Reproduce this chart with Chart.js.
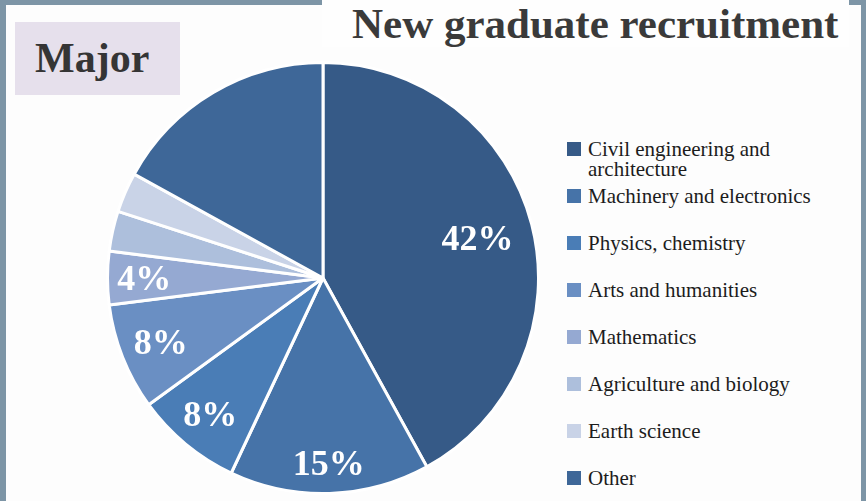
<!DOCTYPE html>
<html>
<head>
<meta charset="utf-8">
<script src="https://cdn.jsdelivr.net/npm/chart.js@4.4.1/dist/chart.umd.min.js"></script>
<style>
    html, body {
        margin: 0;
        padding: 0;
        width: 866px;
        height: 501px;
        overflow: hidden;
        background: #fdfdfd;
        font-family: "Liberation Serif", "Times New Roman", serif;
    }
    #frame {
        position: absolute;
        left: 0;
        top: 0;
        width: 866px;
        height: 501px;
        box-sizing: border-box;
        border-top: 5px solid #7d95a6;
        border-left: 6px solid #7d95a6;
        border-right: 5px solid #7d95a6;
        background: #fdfdfd;
    }
    #title {
        position: absolute;
        left: 322px;
        top: 0;
        width: 527px;
        height: 47px;
        box-sizing: border-box;
        padding-left: 30px;
        background: #fefefe;
        color: #3a3a3a;
        font-weight: bold;
        font-size: 43px;
        line-height: 47px;
        white-space: nowrap;
    }
    #major {
        position: absolute;
        left: 15px;
        top: 22px;
        width: 165px;
        height: 73px;
        box-sizing: border-box;
        padding-left: 20px;
        background: #e6e0ec;
        color: #353535;
        font-weight: bold;
        font-size: 42px;
        line-height: 73px;
    }
    #pie-box {
        position: absolute;
        left: 106px;
        top: 61px;
        width: 434px;
        height: 434px;
    }
    #legend {
        position: absolute;
        left: 567px;
        top: 139px;
        margin: 0;
        padding: 0;
        list-style: none;
        font-size: 21px;
        color: #1c1c1c;
    }
    #legend li {
        position: relative;
        height: 47px;
        padding-left: 21px;
        line-height: 20px;
        width: 240px;
    }
    #legend li span.box {
        position: absolute;
        left: 0;
        top: 3px;
        width: 14px;
        height: 14px;
    }
</style>
</head>
<body>
<div id="frame"></div>
<div id="title">New graduate recruitment</div>
<div id="major">Major</div>
<div id="pie-box"><canvas id="pie"></canvas></div>
<ul id="legend"></ul>

<script>
const majors = [
    'Civil engineering and architecture',
    'Machinery and electronics',
    'Physics, chemistry',
    'Arts and humanities',
    'Mathematics',
    'Agriculture and biology',
    'Earth science',
    'Other'
];
const shares = [42, 15, 8, 8, 4, 3, 3, 17];
const sliceColors = [
    '#365a87', '#4673a8', '#4a7db6', '#6a8fc3',
    '#95a9d2', '#adbfdc', '#c9d3e7', '#3e6798'
];

// how far out (as a fraction of the radius) each percent label sits; null = no label
const labelRadius = [0.74, 0.86, 0.82, 0.81, 0.83, null, null, null];

const percentLabels = {
    id: 'percentLabels',
    afterDatasetsDraw(chart) {
        const ctx = chart.ctx;
        const meta = chart.getDatasetMeta(0);
        ctx.save();
        ctx.fillStyle = '#ffffff';
        ctx.font = 'bold 36px "Liberation Serif", serif';
        ctx.textAlign = 'center';
        ctx.textBaseline = 'alphabetic';
        meta.data.forEach((arc, i) => {
            const f = labelRadius[i];
            if (f == null) return;
            const { x, y, startAngle, endAngle, outerRadius } =
                arc.getProps(['x', 'y', 'startAngle', 'endAngle', 'outerRadius'], true);
            const mid = (startAngle + endAngle) / 2;
            const px = x + Math.cos(mid) * outerRadius * f;
            const py = y + Math.sin(mid) * outerRadius * f;
            ctx.fillText(shares[i] + '%', px, py + 12);
        });
        ctx.restore();
    }
};

new Chart(document.getElementById('pie'), {
    type: 'pie',
    data: {
        labels: majors,
        datasets: [{
            data: shares,
            backgroundColor: sliceColors,
            borderColor: '#ffffff',
            borderWidth: 3
        }]
    },
    options: {
        responsive: true,
        maintainAspectRatio: false,
        animation: false,
        layout: { padding: 0 },
        plugins: {
            legend: { display: false },
            tooltip: { enabled: false }
        }
    },
    plugins: [percentLabels]
});

// legend on the right, built from the same labels and colours
const legendEl = document.getElementById('legend');
majors.forEach((name, i) => {
    const li = document.createElement('li');
    const box = document.createElement('span');
    box.className = 'box';
    box.style.background = sliceColors[i];
    li.appendChild(box);
    li.appendChild(document.createTextNode(name));
    legendEl.appendChild(li);
});
</script>
</body>
</html>
